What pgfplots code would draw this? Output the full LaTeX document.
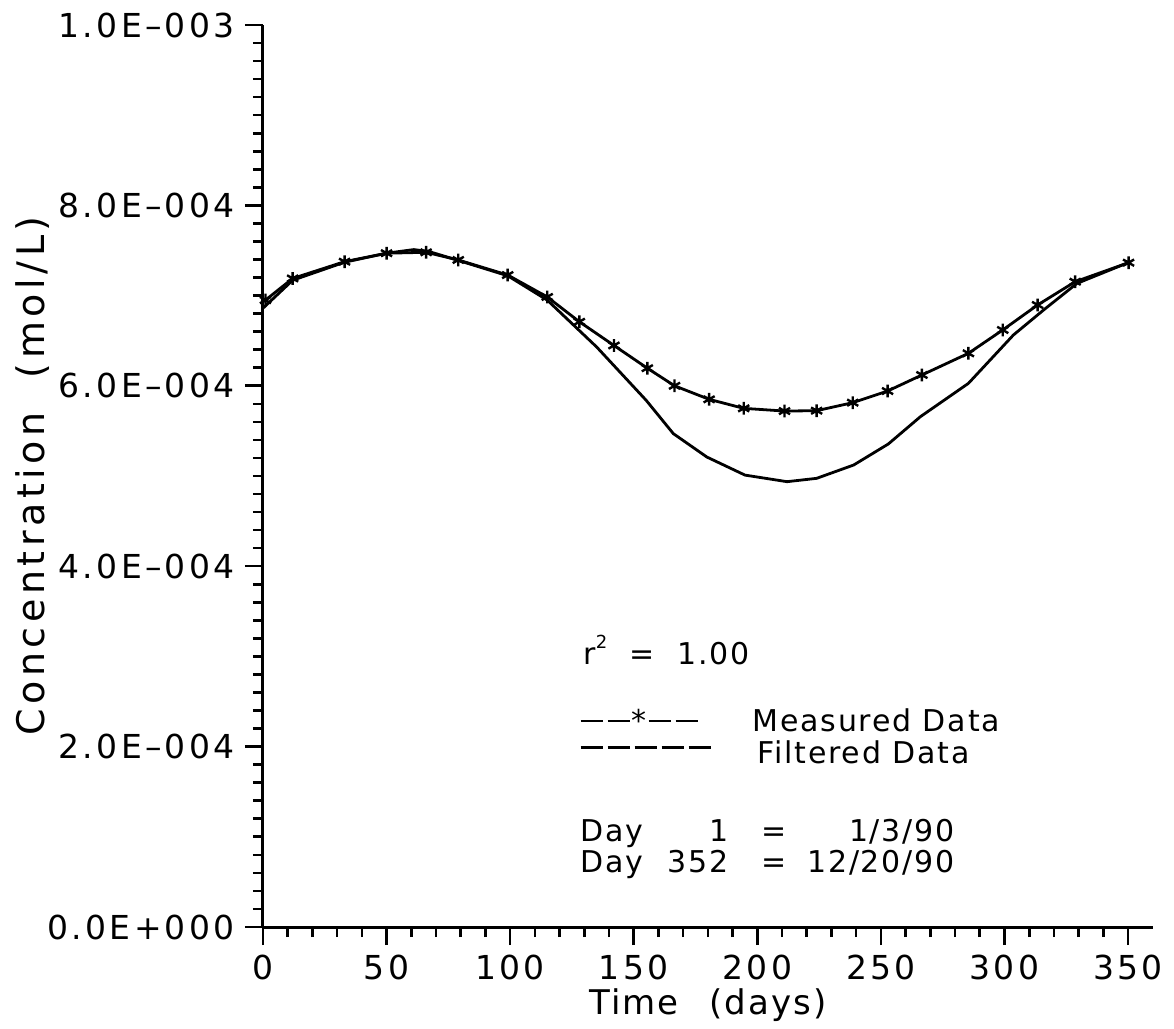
\documentclass[border=0pt]{standalone}
\usepackage{fontspec}
\setmainfont{DejaVu Sans}[LetterSpace=6]
\newfontfamily\tickfont{DejaVu Sans}[LetterSpace=10,Ligatures=TeX]
\newfontfamily\labfont{DejaVu Sans}[LetterSpace=12]
\usepackage{pgfplots}
\pgfplotsset{compat=1.18}
\newcommand{\dsh}{\rule[0.3em]{11pt}{1.3pt}}
\begin{document}
\fontsize{15}{18}\selectfont
\begin{tikzpicture}
\begin{axis}[
  scale only axis,
  width=444.9pt, height=451pt,
  xmin=0, xmax=360, ymin=0, ymax=1e-3,
  axis lines=left,
  axis line style={-, line width=1.5pt},
  every tick/.style={line width=1.3pt, black},
  tick align=outside,
  major tick length=9pt,
  minor tick length=5pt,
  xtick={0,50,...,350},
  minor x tick num=4,
  ytick={0,2e-4,4e-4,6e-4,8e-4,1e-3},
  yticklabels={0.0E+000,2.0E–004,4.0E–004,6.0E–004,8.0E–004,1.0E–003},
  minor y tick num=9,
  scaled y ticks=false,
  /pgf/number format/assume math mode=true,
  tick label style={font=\tickfont\fontsize{16.5}{19}\selectfont},
  xlabel={Time\hspace{0.9em}(days)},
  ylabel={Concentration\hspace{0.9em}(mol/L)},
  xlabel style={font=\fontsize{17}{20}\selectfont, yshift=6pt},
  ylabel style={font=\labfont\fontsize{19}{22}\selectfont, yshift=-11pt},
  clip=false,
]
% Filtered data
\addplot[black, line width=1.4pt] coordinates {
(0,6.86e-4) (12,7.17e-4) (33,7.37e-4) (50,7.47e-4) (61,7.51e-4) (67,7.49e-4)
(79,7.39e-4) (99,7.22e-4) (115,6.95e-4) (135,6.43e-4) (155,5.84e-4) (166,5.47e-4)
(179.6,5.21e-4) (195,5.01e-4) (212,4.937e-4) (224,4.974e-4) (239,5.122e-4)
(253,5.355e-4) (266,5.658e-4) (285.4,6.027e-4) (303.6,6.563e-4) (315.8,6.84e-4)
(329.3,7.135e-4) (350,7.365e-4)
};
% Measured data
\addplot[black, line width=1.4pt, mark=asterisk, mark size=3.2pt, mark options={line width=1.2pt}] coordinates {
(1,6.95e-4) (12,7.19e-4) (33,7.376e-4) (50,7.47e-4) (66,7.48e-4) (79,7.395e-4)
(99,7.228e-4) (115,6.985e-4) (128,6.71e-4) (142,6.447e-4) (155.5,6.195e-4)
(166.5,6.00e-4) (180.5,5.85e-4) (194.5,5.75e-4) (211,5.72e-4) (224,5.724e-4)
(238.6,5.813e-4) (252.7,5.942e-4) (266.6,6.12e-4) (285.4,6.36e-4) (299.3,6.619e-4)
(313.4,6.896e-4) (328.6,7.154e-4) (350.2,7.365e-4)
};
\node[anchor=west, inner sep=0pt] at (axis cs:129.5,3.07e-4) {r\raisebox{0.55em}{\fontsize{9}{9}\selectfont 2}~~=~~1.00};
\node[anchor=west, inner sep=0pt] at (axis cs:128.3,2.295e-4) {\dsh\hspace{2.5pt}\dsh\hspace{1pt}*\hspace{1pt}\dsh\hspace{2.5pt}\dsh};
\node[anchor=west, inner sep=0pt] at (axis cs:197.9,2.295e-4) {Measured~Data};
\node[anchor=west, inner sep=0pt] at (axis cs:128.3,1.94e-4) {\dsh\hspace{2.5pt}\dsh\hspace{2.5pt}\dsh\hspace{2.5pt}\dsh\hspace{2.5pt}\dsh};
\node[anchor=west, inner sep=0pt] at (axis cs:199.9,1.94e-4) {Filtered~Data};
\node[anchor=north west, inner sep=0pt] at (axis cs:128.3,1.2e-4) {%
  \setlength{\tabcolsep}{0pt}\renewcommand{\arraystretch}{0.85}%
  \begin{tabular}{l@{\hspace{0.8em}}r@{\hspace{1.1em}}c@{\hspace{0.7em}}r}
  Day & 1 & = & 1/3/90\\
  Day & 352 & = & 12/20/90
  \end{tabular}};
\end{axis}
\pgfresetboundingbox
\path[use as bounding box] ([shift={(-131.5pt,-51pt)}]current axis.south west) rectangle ([shift={(455.5pt,463.5pt)}]current axis.south west);
\end{tikzpicture}
\end{document}
